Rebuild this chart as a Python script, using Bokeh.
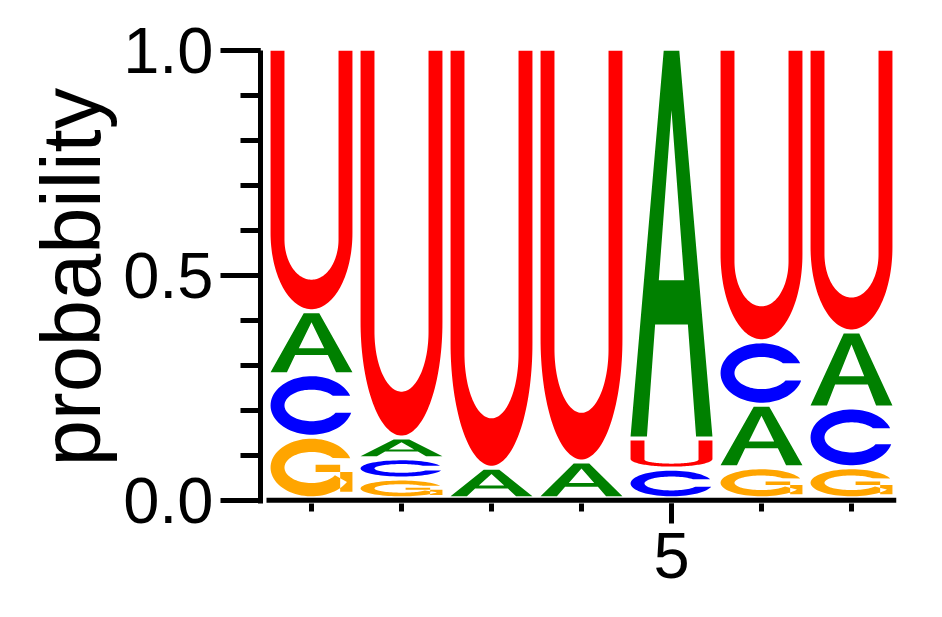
import numpy as np
from bokeh.plotting import figure
from bokeh.models import FixedTicker, PrintfTickFormatter, ColumnDataSource
from bokeh.embed import file_html
from bokeh.resources import INLINE

# ---------------- data ----------------
positions = [1, 2, 3, 4, 5, 6, 7]
prob_A = [0.140, 0.046, 0.068, 0.082, 0.867, 0.139, 0.169]
prob_C = [0.139, 0.045, 0.000, 0.000, 0.066, 0.141, 0.133]
prob_G = [0.137, 0.044, 0.000, 0.000, 0.000, 0.069, 0.069]
prob_U = [0.584, 0.865, 0.932, 0.918, 0.067, 0.651, 0.629]
bases = ["G", "C", "A", "U"]
base_probs = {"A": prob_A, "C": prob_C, "G": prob_G, "U": prob_U}
base_colors = {"A": "#008000", "C": "#0000ff", "G": "#ffa500", "U": "#ff0000"}
y_ticks = [0.0, 0.5, 1.0]
x_label_ticks = [5]

# ---------------- letter outlines (unit box) ----------------
def arc(cx, cy, rx, ry, a0, a1, n=72):
    t = np.radians(np.linspace(a0, a1, n))
    return list(cx + rx * np.cos(t)), list(cy + ry * np.sin(t))

def rect(x0, x1, y0, y1):
    return [x0, x1, x1, x0], [y0, y0, y1, y1]

def shape_A():
    ext = ([0, 0.20, 0.30, 0.70, 0.80, 1.0, 0.595, 0.405],
           [0, 0, 0.29, 0.29, 0, 0, 1.0, 1.0])
    hole = ([0.345, 0.655, 0.50], [0.405, 0.405, 0.845])
    return [[ext, hole]]

def ring(a_start, a_end, ai_end, ai_start):
    ox, oy = arc(0.5, 0.5, 0.5, 0.5, a_start, a_end)
    ix, iy = arc(0.5, 0.5, 0.33, 0.27, ai_end, ai_start)
    return (ox + ix, oy + iy)

def shape_C():
    return [[ring(19.3, 345.7, 332.7, 37.7)]]

def shape_G():
    return [[ring(19.0, 330.0, 330.0, 37.7)],
            [rect(0.55, 1.0, 0.42, 0.55)],
            [rect(0.85, 1.0, 0.08, 0.55)]]

def shape_U():
    ox, oy = arc(0.5, 0.295, 0.5, 0.295, 180, 360)
    ix, iy = arc(0.5, 0.27, 0.33, 0.156, 360, 180)
    xs = [0.0] + ox + [1.0, 0.83] + ix + [0.17]
    ys = [1.0] + oy + [1.0, 1.0] + iy + [1.0]
    return [[(xs, ys)]]

shapes = {"A": shape_A(), "C": shape_C(), "G": shape_G(), "U": shape_U()}

LETTER_W = 0.91
PAD = 0.009

mx, my, mc = [], [], []
for i, pos in enumerate(positions):
    vals = {b: base_probs[b][i] for b in bases}
    order = sorted(bases, key=lambda b: vals[b])
    y = 0.0
    for b in order:
        h = vals[b]
        if h <= 0:
            continue
        y0, y1 = y + PAD, y + h
        gx, gy = [], []
        for poly in shapes[b]:
            px, py = [], []
            for rx_, ry_ in poly:
                px.append([pos - LETTER_W / 2 + u * LETTER_W for u in rx_])
                py.append([y0 + v * (y1 - y0) for v in ry_])
            gx.append(px)
            gy.append(py)
        mx.append(gx)
        my.append(gy)
        mc.append(base_colors[b])
        y += h

src = ColumnDataSource(dict(xs=mx, ys=my, color=mc))

# ---------------- figure ----------------
p = figure(width=920, height=608,
           x_range=(positions[0] - 0.5667, positions[-1] + 0.5),
           y_range=(-0.007, 1.0),
           output_backend="svg", toolbar_location=None,
           min_border_left=260, min_border_right=24,
           min_border_top=50, min_border_bottom=105)
p.outline_line_color = None
p.xgrid.visible = False
p.ygrid.visible = False
p.background_fill_color = "white"
p.border_fill_color = "white"

p.multi_polygons(xs="xs", ys="ys", fill_color="color", line_color=None, source=src)

# x axis baseline (separate from the y axis line, as in the reference)
p.segment(x0=[positions[0] - 0.5], x1=[positions[-1] + 0.5], y0=[0], y1=[0],
          line_width=5, line_color="black", line_cap="butt")

FONT = "Liberation Sans"

yax = p.yaxis[0]
yax.ticker = FixedTicker(ticks=y_ticks, minor_ticks=[round(k * 0.1, 1) for k in range(11)])
yax.formatter = PrintfTickFormatter(format="%.1f")
yax.axis_line_width = 5
yax.major_tick_line_width = 5
yax.minor_tick_line_width = 5
yax.major_tick_out = 40
yax.major_tick_in = 0
yax.minor_tick_out = 20
yax.minor_tick_in = 0
yax.major_label_text_font = FONT
yax.major_label_text_font_size = "65px"
yax.major_label_text_color = "black"
yax.major_label_standoff = 7
yax.axis_label = "probability"
yax.axis_label_text_font = FONT
yax.axis_label_text_font_size = "83px"
yax.axis_label_text_font_style = "normal"
yax.axis_label_text_color = "black"
yax.axis_label_standoff = 2

xax = p.xaxis[0]
xax.ticker = FixedTicker(ticks=x_label_ticks, minor_ticks=positions)
xax.axis_line_color = None
xax.major_tick_line_width = 5
xax.minor_tick_line_width = 5
xax.major_tick_out = 20
xax.major_tick_in = 0
xax.minor_tick_out = 8
xax.minor_tick_in = 0
xax.major_label_text_font = FONT
xax.major_label_text_font_size = "65px"
xax.major_label_text_color = "black"
xax.major_label_standoff = 9

open("out.html", "w").write(file_html(p, INLINE))
